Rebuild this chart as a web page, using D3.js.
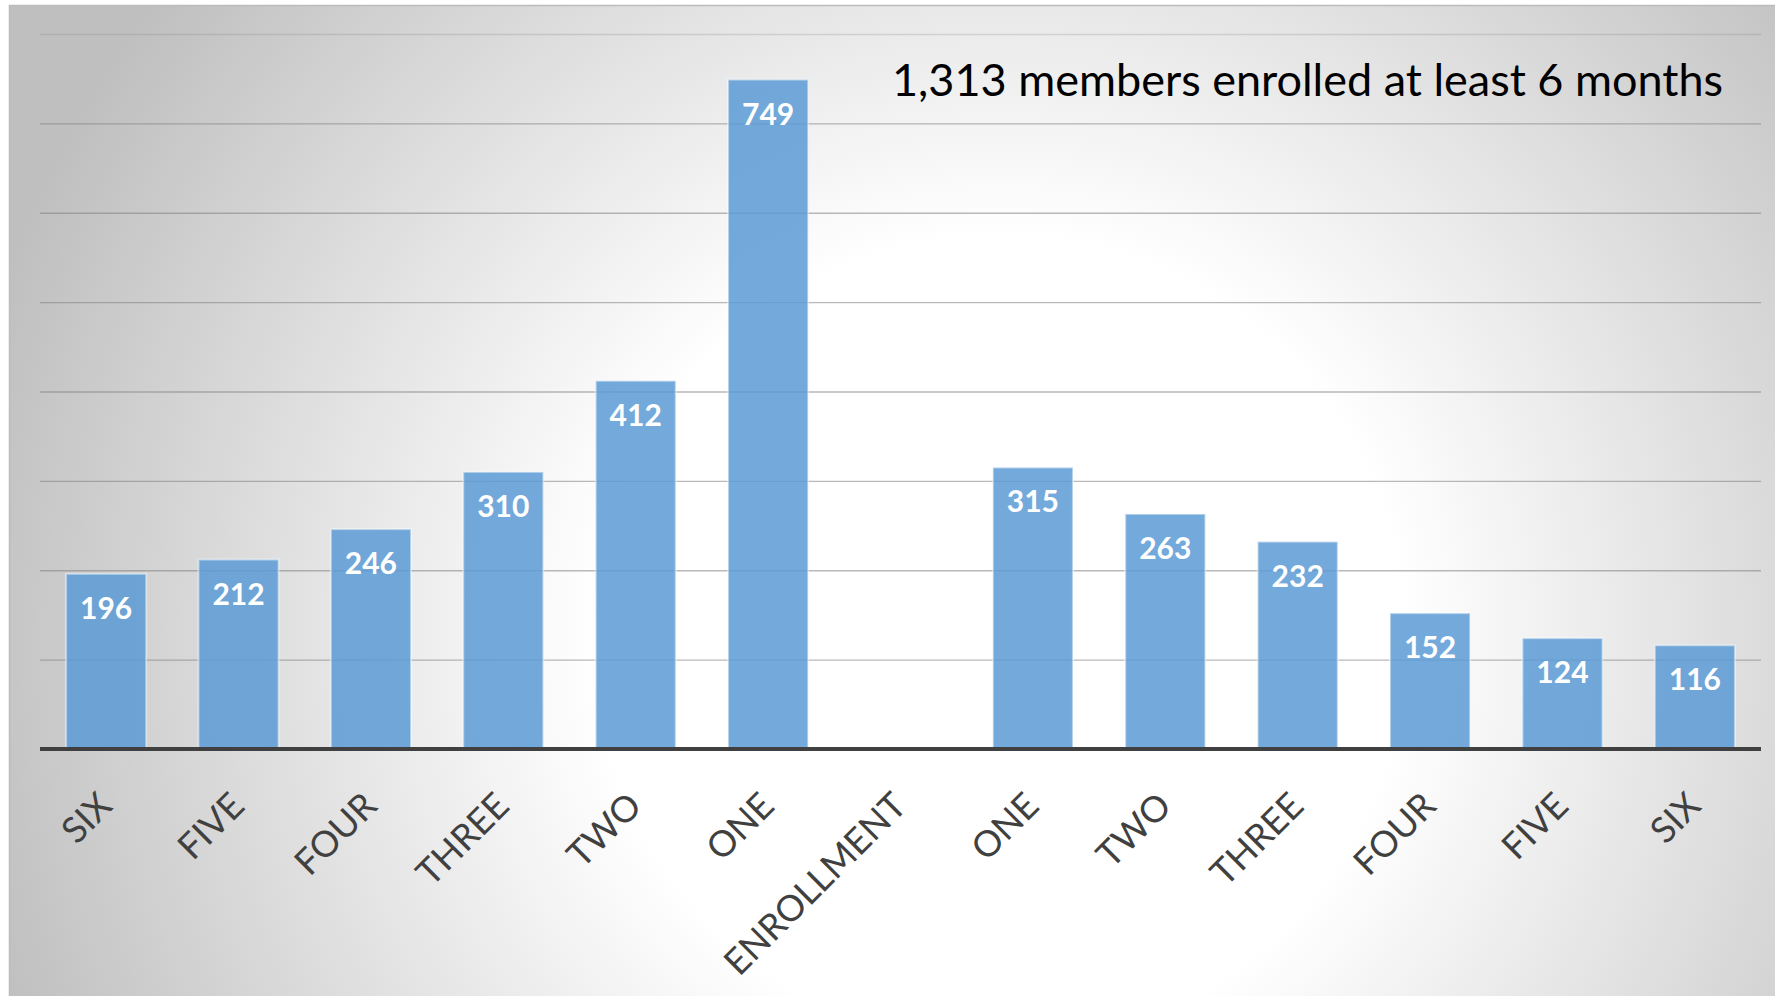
<!DOCTYPE html>
<html>
<head>
<meta charset="utf-8">
<script src="https://cdn.jsdelivr.net/npm/d3@7"></script>
<style>
  body { margin: 0; background: #fff; }
  .grid line { stroke: #7f7f7f; stroke-opacity: 0.55; }
  .grid .domain { display: none; }
  .cat text { font-family: Lato, "Open Sans", sans-serif; fill: #404040; }
</style>
</head>
<body>
<div id="chart"></div>
<script>
(function() {
    // data
    var categories = ["SIX", "FIVE", "FOUR", "THREE", "TWO", "ONE", "ENROLLMENT", "ONE", "TWO", "THREE", "FOUR", "FIVE", "SIX"];
    var values = [196, 212, 246, 310, 412, 749, null, 315, 263, 232, 152, 124, 116];
    var yTicks = [0, 100, 200, 300, 400, 500, 600, 700, 800];
    var title = "1,313 members enrolled at least 6 months";

    var width = 1775, height = 996;
    var margin = {top: 34, left: 40, right: 14, bottom: 247};

    var svg = d3.select('#chart')
        .append('svg')
        .attr('width', width)
        .attr('height', height)

    // background panel with the soft radial shading
    var defs = svg.append('defs')
    var grad = defs.append('radialGradient')
        .attr('id', 'bg')
        .attr('gradientUnits', 'userSpaceOnUse')
        .attr('cx', 1000).attr('cy', 640).attr('r', 1060)
    grad.append('stop').attr('offset', '0').attr('stop-color', '#ffffff')
    grad.append('stop').attr('offset', '0.38').attr('stop-color', '#ffffff')
    grad.append('stop').attr('offset', '1').attr('stop-color', '#bfbfbf')

    svg.append('rect')
        .attr('x', 9.5).attr('y', 5.5)
        .attr('width', width).attr('height', height)
        .style('fill', 'url(#bg)')
        .style('stroke', '#bcbcbc')
        .style('stroke-width', 1.5)

    var x = d3.scaleBand()
        .domain(d3.range(categories.length))
        .range([margin.left, width - margin.right])
        .paddingInner(0.395)
        .paddingOuter(0.197)

    var y = d3.scaleLinear()
        .domain([0, 800])
        .range([height - margin.bottom, margin.top])

    // gridlines
    svg.append('g')
        .attr('class', 'grid')
        .attr('transform', 'translate(' + margin.left + ',0)')
        .call(d3.axisLeft(y)
            .tickValues(yTicks)
            .tickSize(-(width - margin.left - margin.right))
            .tickFormat(''))
        .selectAll('.tick line')
        .style('stroke-opacity', function(d) { return d == 800 ? 0.25 : 0.55 })
        .style('stroke-width', 1.3)

    var bars = values.map(function(v, i) { return {i: i, v: v} })
        .filter(function(d) { return d.v != null })

    svg.selectAll('.bar')
        .data(bars)
        .enter().append('rect')
        .attr('class', 'bar')
        .attr('x', function(d) { return x(d.i) })
        .attr('width', x.bandwidth())
        .attr('y', function(d) { return y(d.v) })
        .attr('height', function(d) { return y(0) - y(d.v) })
        .style('fill', '#5b9bd5')
        .style('fill-opacity', 0.85)
        .style('stroke', '#ffffff')
        .style('stroke-opacity', 0.45)
        .style('stroke-width', 2)

    // value labels inside the bars
    svg.selectAll('.val')
        .data(bars)
        .enter().append('text')
        .attr('class', 'val')
        .attr('x', function(d) { return x(d.i) + x.bandwidth() / 2 })
        .attr('y', function(d) { return y(d.v) + 45 })
        .attr('text-anchor', 'middle')
        .style('font-family', 'Lato, "Open Sans", sans-serif')
        .style('font-weight', 'bold')
        .style('font-size', '30px')
        .style('fill', '#ffffff')
        .text(function(d) { return d.v })

    // baseline
    svg.append('line')
        .attr('x1', margin.left).attr('x2', width - margin.right)
        .attr('y1', y(0)).attr('y2', y(0))
        .style('stroke', '#404040')
        .style('stroke-width', 4)

    // rotated category labels
    svg.append('g')
        .attr('class', 'cat')
        .selectAll('text')
        .data(categories)
        .enter().append('text')
        .attr('text-anchor', 'end')
        .attr('transform', function(d, i) {
            return 'translate(' + (x(i) + x.bandwidth() / 2 + 8) + ',' + 808 + ') rotate(-45)'
        })
        .style('font-size', '36px')
        .text(function(d) { return d })

    svg.append('text')
        .attr('x', 1723)
        .attr('y', 96)
        .attr('text-anchor', 'end')
        .style('font-family', 'Lato, "Open Sans", sans-serif')
        .style('font-size', '45px')
        .style('fill', '#000')
        .text(title)
})();
</script>
</body>
</html>
